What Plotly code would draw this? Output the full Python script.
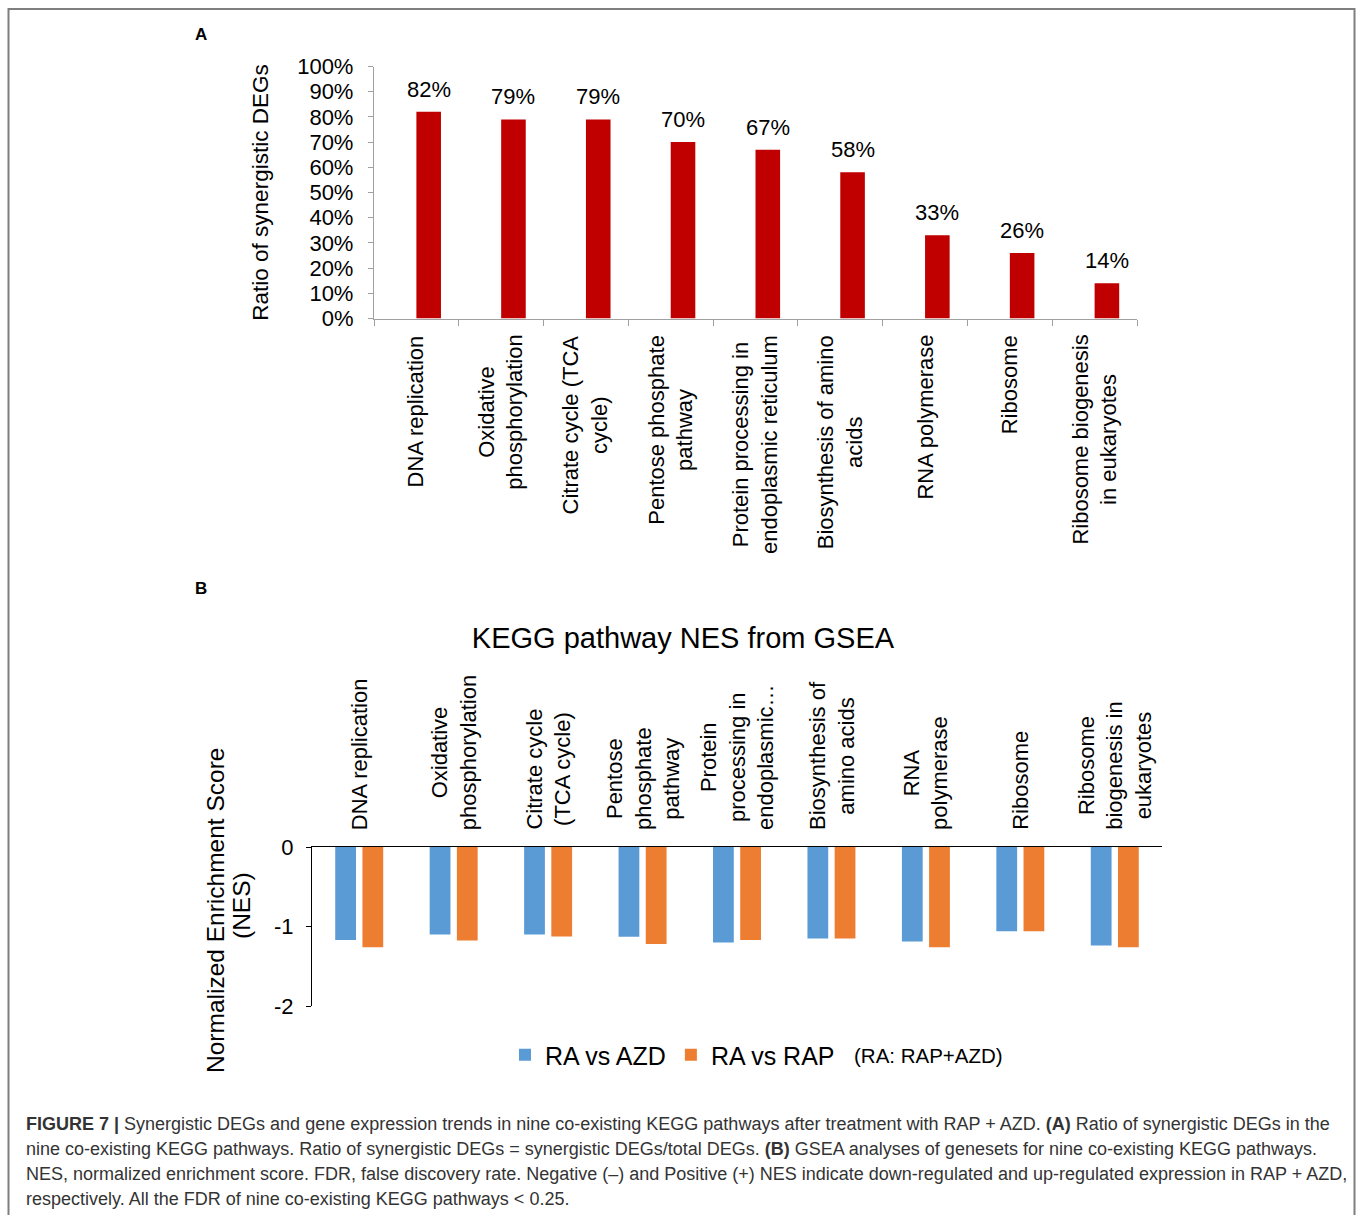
import plotly.graph_objects as go

W, H = 1357, 1215

# ---------------- data ----------------
pathways = ["DNA replication", "Oxidative phosphorylation", "Citrate cycle (TCA cycle)",
            "Pentose phosphate pathway", "Protein processing in endoplasmic reticulum",
            "Biosynthesis of amino acids", "RNA polymerase", "Ribosome",
            "Ribosome biogenesis in eukaryotes"]
labels_a = ["DNA replication", "Oxidative<br>phosphorylation", "Citrate cycle (TCA<br>cycle)",
            "Pentose phosphate<br>pathway", "Protein processing in<br>endoplasmic reticulum",
            "Biosynthesis of amino<br>acids", "RNA polymerase", "Ribosome",
            "Ribosome biogenesis<br>in eukaryotes"]
labels_b = ["DNA replication", "Oxidative<br>phosphorylation", "Citrate cycle<br>(TCA cycle)",
            "Pentose<br>phosphate<br>pathway", "Protein<br>processing in<br>endoplasmic…",
            "Biosynthesis of<br>amino acids", "RNA<br>polymerase", "Ribosome",
            "Ribosome<br>biogenesis in<br>eukaryotes"]
ratio_pct = [82, 79, 79, 70, 67, 58, 33, 26, 14]
nes_ra_vs_azd = [-1.17, -1.10, -1.10, -1.13, -1.20, -1.15, -1.19, -1.06, -1.24]
nes_ra_vs_rap = [-1.26, -1.175, -1.125, -1.22, -1.17, -1.15, -1.26, -1.06, -1.26]
a_yticks = list(range(0, 101, 10))
a_yticktext = [f"{v}%" for v in a_yticks]
b_yticks = [0, -1, -2]
b_yticktext = ["0", "-1", "-2"]

FONT = "Liberation Sans, Arial, Helvetica, sans-serif"
RED = "#C00000"
BLUE = "#5B9BD5"
ORANGE = "#ED7D31"


def px_x(x):
    return x / W


def px_y(y):
    return (H - y) / H


fig = go.Figure()

# Panel A bars
fig.add_trace(go.Bar(x=pathways, y=ratio_pct, marker_color=RED, marker_line_width=0,
                     width=0.29, offset=0.0, xaxis="x", yaxis="y", showlegend=False,
                     hoverinfo="x+y"))
# Panel B bars
fig.add_trace(go.Bar(x=pathways, y=nes_ra_vs_azd, name="RA vs AZD", marker_color=BLUE,
                     marker_line_width=0, width=0.22, offset=-0.254, xaxis="x2", yaxis="y2"))
fig.add_trace(go.Bar(x=pathways, y=nes_ra_vs_rap, name="RA vs RAP", marker_color=ORANGE,
                     marker_line_width=0, width=0.22, offset=0.034, xaxis="x2", yaxis="y2"))

annotations = []
# value labels A
for i, v in enumerate(ratio_pct):
    annotations.append(dict(x=i + 0.145, y=v, xref="x", yref="y", text=f"{v}%",
                            showarrow=False, yanchor="bottom", yshift=8,
                            font=dict(size=22, color="#000000", family=FONT)))
# category labels A
for i, lab in enumerate(labels_a):
    annotations.append(dict(x=i, y=px_y(333), xref="x", yref="paper", text=lab,
                            showarrow=False, textangle=-90, yanchor="top", xanchor="center",
                            align="center",
                            font=dict(size=22, color="#000000", family=FONT)))
# category labels B
for i, lab in enumerate(labels_b):
    annotations.append(dict(x=i, y=px_y(832), xref="x2", yref="paper", text=lab,
                            showarrow=False, textangle=-90, yanchor="bottom", xanchor="center",
                            align="center",
                            font=dict(size=22, color="#000000", family=FONT)))
# y-axis title of panel B (two lines, tighter spacing than plotly's default)
annotations.append(dict(x=px_x(216), y=px_y(910), xref="paper", yref="paper",
                        text="Normalized Enrichment Score", showarrow=False, textangle=-90,
                        xanchor="center", yanchor="middle",
                        font=dict(size=24.5, color="#000000", family=FONT)))
annotations.append(dict(x=px_x(241), y=px_y(906), xref="paper", yref="paper",
                        text="(NES)", showarrow=False, textangle=-90,
                        xanchor="center", yanchor="middle",
                        font=dict(size=24.5, color="#000000", family=FONT)))
# panel letters
annotations.append(dict(x=px_x(193), y=px_y(34), xref="paper", yref="paper", text="<b>A</b>",
                        showarrow=False, xanchor="left", yanchor="middle",
                        font=dict(size=17, color="#000000", family=FONT)))
annotations.append(dict(x=px_x(193), y=px_y(588), xref="paper", yref="paper", text="<b>B</b>",
                        showarrow=False, xanchor="left", yanchor="middle",
                        font=dict(size=17, color="#000000", family=FONT)))
# legend note
annotations.append(dict(x=px_x(852), y=px_y(1055), xref="paper", yref="paper",
                        text="(RA: RAP+AZD)", showarrow=False, xanchor="left", yanchor="middle",
                        font=dict(size=20.5, color="#000000", family=FONT)))
# caption
caption = [
    "<b>FIGURE 7 |</b> Synergistic DEGs and gene expression trends in nine co-existing KEGG pathways after treatment with RAP + AZD. <b>(A)</b> Ratio of synergistic DEGs in the",
    "nine co-existing KEGG pathways. Ratio of synergistic DEGs = synergistic DEGs/total DEGs. <b>(B)</b> GSEA analyses of genesets for nine co-existing KEGG pathways.",
    "NES, normalized enrichment score. FDR, false discovery rate. Negative (–) and Positive (+) NES indicate down-regulated and up-regulated expression in RAP + AZD,",
    "respectively. All the FDR of nine co-existing KEGG pathways &lt; 0.25.",
]
for k, line in enumerate(caption):
    annotations.append(dict(x=px_x(24), y=px_y(1124 + 25 * k), xref="paper", yref="paper",
                            text=line, showarrow=False, xanchor="left", yanchor="middle",
                            align="left", font=dict(size=18, color="#333333", family=FONT)))

fig.update_layout(
    width=W, height=H, autosize=False,
    margin=dict(l=0, r=0, t=0, b=0),
    paper_bgcolor="white", plot_bgcolor="white",
    font=dict(family=FONT, color="#000000", size=22),
    barmode="overlay",
    title=dict(text="KEGG pathway NES from GSEA", x=683 / W, xanchor="center",
               y=px_y(638), yanchor="middle", font=dict(size=29, color="#000000")),
    xaxis=dict(domain=[px_x(374), px_x(1137)], anchor="y", type="category",
               range=[-0.5, 8.5], showticklabels=False, showline=True, linecolor="#A0A0A0",
               linewidth=1.3, ticks="outside", tickson="boundaries", ticklen=6,
               tickcolor="#A0A0A0", showgrid=False, zeroline=False),
    yaxis=dict(domain=[px_y(318.5), px_y(66.5)], anchor="x", range=[0, 100],
               tickmode="array", tickvals=a_yticks, ticktext=a_yticktext,
               showline=True, linecolor="#A0A0A0",
               linewidth=1.3, ticks="outside", ticklen=5, tickcolor="#A0A0A0",
               ticklabelstandoff=10,
               showgrid=False, zeroline=False, tickfont=dict(size=22),
               title=dict(text="Ratio of synergistic DEGs", font=dict(size=22.5), standoff=22),
               automargin=False),
    xaxis2=dict(domain=[px_x(312), px_x(1162)], anchor="y2", type="category",
                range=[-0.5, 8.5], side="top", showticklabels=False, showline=True,
                linecolor="#000000", linewidth=1.3, ticks="", showgrid=False, zeroline=False),
    yaxis2=dict(domain=[px_y(1006), px_y(847)], anchor="x2", range=[-2, 0],
                tickmode="array", tickvals=b_yticks, ticktext=b_yticktext, showline=True,
                linecolor="#000000",
                linewidth=1.3, ticks="outside", ticklen=5, tickcolor="#000000",
                ticklabelstandoff=8,
                showgrid=False, zeroline=False, tickfont=dict(size=22),
                automargin=False),
    legend=dict(orientation="h", x=px_x(505), y=px_y(1055), xanchor="left", yanchor="middle",
                font=dict(size=25, color="#000000"), bgcolor="rgba(0,0,0,0)",
                itemwidth=30, tracegroupgap=0),
    annotations=annotations,
    shapes=[dict(type="rect", xref="paper", yref="paper", x0=px_x(8.5), x1=px_x(1354.5),
                 y0=-0.05, y1=px_y(9), line=dict(color="#7F7F7F", width=2),
                 fillcolor="rgba(0,0,0,0)", layer="below")],
)

fig.write_html("out.html")
